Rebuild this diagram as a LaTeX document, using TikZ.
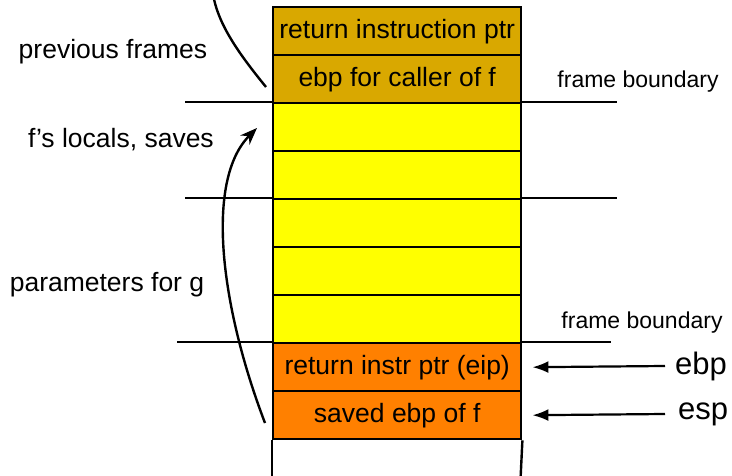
\documentclass[tikz,border=0pt]{standalone}
\usepackage{fontspec}
\setmainfont{Liberation Sans}
\usetikzlibrary{arrows.meta}
\definecolor{goldcell}{RGB}{217,168,0}
\definecolor{yellowcell}{RGB}{255,255,0}
\definecolor{orangecell}{RGB}{255,128,0}
\begin{document}
\begin{tikzpicture}[x=1pt,y=-1pt,
  cell/.style={draw=black,line width=2.4pt,minimum width=248pt,minimum height=48pt,
    inner sep=0pt,anchor=north west,font=\fontsize{26.5}{30}\selectfont},
  lbl/.style={font=\fontsize{26.5}{30}\selectfont,inner sep=0pt},
  small/.style={font=\fontsize{23}{27}\selectfont,inner sep=0pt},
  reg/.style={font=\fontsize{31}{36}\selectfont,inner sep=0pt,anchor=west},
  bound/.style={line width=2.4pt},
  ptr/.style={line width=2.2pt,-{Latex[length=16pt,width=12pt]}},
  flow/.style={line width=2.4pt}]
\useasboundingbox (0,0) rectangle (732,476);
\clip (0,0) rectangle (732,476);

% caller's frame
\node[cell,fill=goldcell] (ret0) at (272,6) {return instruction ptr};
\node[cell,fill=goldcell] (ebp0) at (272,54) {ebp for caller of f};
% f's frame
\node[cell,fill=yellowcell] (y1) at (272,102) {};
\node[cell,fill=yellowcell] (y2) at (272,150) {};
\node[cell,fill=yellowcell] (y3) at (272,198) {};
\node[cell,fill=yellowcell] (y4) at (272,246) {};
\node[cell,fill=yellowcell] (y5) at (272,294) {};
% g's frame
\node[cell,fill=orangecell] (ret1) at (272,342) {return instr ptr (eip)};
\node[cell,fill=orangecell] (sav1) at (272,390) {saved ebp of f};
% open slot below the stack top
\coordinate (openl) at (272,490);
\coordinate (openr) at (520,490);
\draw[line width=2.4pt] (sav1.south west) -- (openl);
\draw[line width=2.4pt] (sav1.south east) -- (openr);

% frame boundaries
\coordinate (b1l) at (185,102);
\coordinate (b1r) at (617,102);
\coordinate (b2l) at (185,198);
\coordinate (b2r) at (617,198);
\coordinate (b3l) at (177,342);
\coordinate (b3r) at (611,342);
\draw[bound] (b1l) -- (y1.north west);
\draw[bound] (y1.north east) -- (b1r);
\draw[bound] (b2l) -- (y3.north west);
\draw[bound] (y3.north east) -- (b2r);
\draw[bound] (b3l) -- (ret1.north west);
\draw[bound] (ret1.north east) -- (b3r);

% labels
\node[lbl] (lprev) at (113,52) {previous frames};
\node[lbl] (lloc) at (121,140) {f’s locals, saves};
\node[lbl] (lpar) at (107,285) {parameters for g};
\node[small] (fb1) at (638,82) {frame boundary};
\node[small] (fb2) at (642,323) {frame boundary};

% registers
\node[reg] (ebp) at (675,366) {ebp};
\node[reg] (esp) at (678,414) {esp};
\draw[ptr] ([xshift=-10pt]ebp.west) -- ([xshift=10pt]ret1.east);
\draw[ptr] ([xshift=-13pt]esp.west) -- ([xshift=10pt]sav1.east);

% saved-ebp chain
\coordinate (ch1s) at (265,423);
\coordinate (ch1e) at (257,128);
\draw[flow,-{Stealth[length=17pt,width=13pt]}] (ch1s) .. controls (220,305) and (205,180) .. (ch1e);
\coordinate (ch0s) at (266,87);
\coordinate (ch0e) at (213,-6);
\draw[flow] (ch0s) .. controls (240,55) and (218,25) .. (ch0e);
\end{tikzpicture}
\end{document}
